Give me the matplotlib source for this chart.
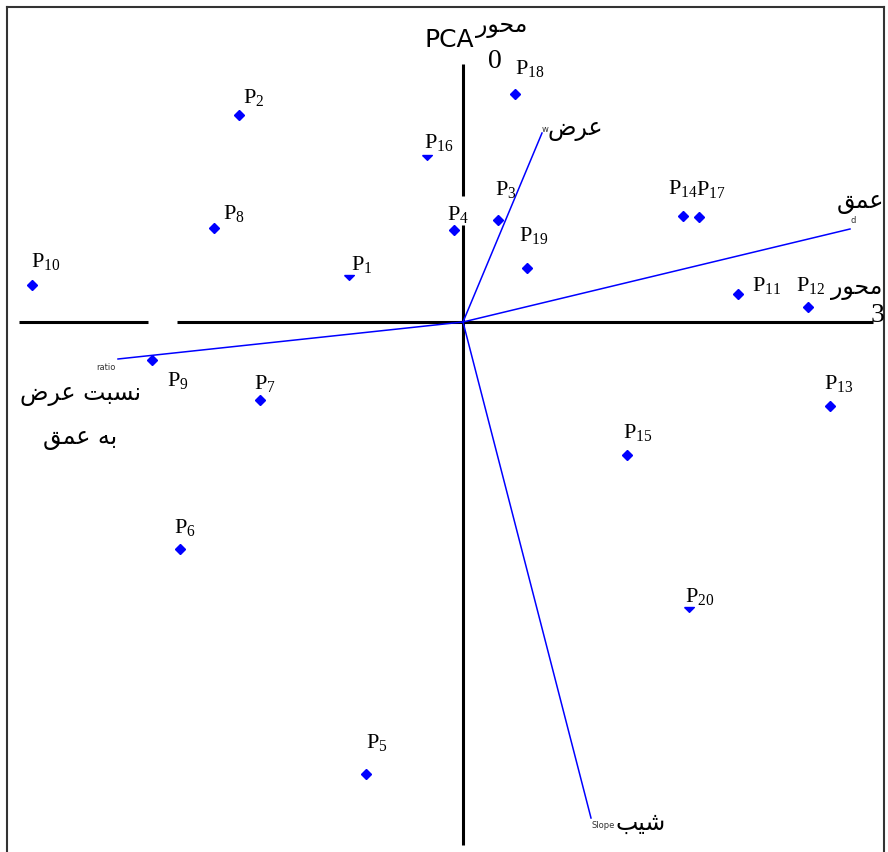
import numpy as np
import matplotlib.pyplot as plt

plt.rcParams['mathtext.fontset'] = 'custom'
plt.rcParams['mathtext.rm'] = 'Liberation Serif'
plt.rcParams['mathtext.it'] = 'Liberation Serif:italic'

# امتیاز نقاط روی دو مؤلفه اصلی
names = ['P1', 'P2', 'P3', 'P4', 'P5', 'P6', 'P7', 'P8', 'P9', 'P10',
         'P11', 'P12', 'P13', 'P14', 'P15', 'P16', 'P17', 'P18', 'P19', 'P20']
pc1 = [-1.14, -2.24, 0.35, -0.09, -0.97, -2.83, -2.03, -2.49, -3.11, -4.31,
       2.75, 3.45, 3.67, 2.20, 1.64, -0.36, 2.36, 0.52, 0.64, 2.26]
pc2 = [0.47, 2.07, 1.02, 0.92, -4.52, -2.27, -0.78, 0.94, -0.38, 0.37,
       0.28, 0.15, -0.84, 1.06, -1.33, 1.67, 1.05, 2.28, 0.54, -2.85]

# بردارهای متغیرها (متن فارسی به شکل‌های نمایشی و ترتیب دیداری)
var_codes = ['w', 'd', 'ratio', 'Slope']
var_names = ['\uFEBD\uFEAE\uFECB',
             '\uFED6\uFEE4\uFECB',
             '\uFEBD\uFEAE\uFECB \uFE96\uFE92\uFEB4\uFEE7\n\uFED6\uFEE4\uFECB \uFEEA\uFE91',
             '\uFE90\uFBFF\uFEB7']
load1 = [0.79, 3.87, -3.45, 1.28]
load2 = [1.89, 0.93, -0.37, -4.96]

axis_word = '\uFEAD\uFEEE\uFEA4\uFEE3'

# جای برچسب‌ها نسبت به نقطه (پیکسل)
label_off = {'P1': (2, 5), 'P2': (4, 12), 'P3': (-3, 25), 'P4': (-7, 10), 'P5': (0, 26),
             'P6': (-6, 16), 'P7': (-6, 11), 'P8': (9, 9), 'P9': (15, -26), 'P10': (-1, 18),
             'P11': (14, 3), 'P12': (-12, 16), 'P13': (-6, 17), 'P14': (-15, 22), 'P15': (-4, 17),
             'P16': (-3, 7), 'P17': (-3, 22), 'P18': (0, 20), 'P19': (-8, 27), 'P20': (-4, 5)}
half = ['P1', 'P16', 'P20']
code_pos = [((0, 3), 'left', 'center'), ((3, 4), 'center', 'bottom'),
            ((-2, -8), 'right', 'center'), ((1, -7), 'left', 'center')]
name_pos = [(33, 4), (11, 27), (-38, -57), (50, -5)]

fig = plt.figure(figsize=(8.88, 8.52), dpi=100)
ax = fig.add_axes([7 / 888, 0, 877 / 888, 845 / 852])
ax.set_xlim(-4.56, 4.21)
ax.set_ylim(-5.30, 3.15)
ax.set_xticks([])
ax.set_yticks([])
for s in ['left', 'right', 'top']:
    ax.spines[s].set_linewidth(1.5)
    ax.spines[s].set_color('#333333')
ax.spines['bottom'].set_visible(False)

# محورها
ax.plot([-4.44, -3.15], [0, 0], color='black', lw=2.2, solid_capstyle='butt')
ax.plot([-2.86, 4.10], [0, 0], color='black', lw=2.2, solid_capstyle='butt')
ax.plot([0, 0], [2.58, 1.26], color='black', lw=2.2, solid_capstyle='butt')
ax.plot([0, 0], [0.97, -5.23], color='black', lw=2.2, solid_capstyle='butt')

# بردارها
for i in range(len(var_codes)):
    ax.plot([0, load1[i]], [0, load2[i]], color='#0000ff', lw=1.1)
    off, ha, va = code_pos[i]
    ax.annotate(var_codes[i], (load1[i], load2[i]), xytext=off, textcoords='offset pixels',
                ha=ha, va=va, fontsize=6, color='#333333', family='DejaVu Sans')
    ax.annotate(var_names[i], (load1[i], load2[i]), xytext=name_pos[i], textcoords='offset pixels',
                ha='center', va='center', fontsize=17, family='DejaVu Sans',
                linespacing=2.0, multialignment='center', annotation_clip=False)

# نقاط
tri = [(-1, 0), (1, 0), (0, -1), (-1, 0)]
for i, n in enumerate(names):
    mk = tri if n in half else 'D'
    ms = 7 if n in half else 4.6
    ax.plot(pc1[i], pc2[i], marker=mk, ms=ms, color='#0000ff', ls='none')
    num = n[1:]
    ax.annotate(r'$\mathrm{P}_{%s}$' % num, (pc1[i], pc2[i]), xytext=label_off[n],
                textcoords='offset pixels', ha='left', va='baseline', fontsize=16)

# عنوان محورها
ax.text(-0.14, 2.82, 'PCA', fontsize=18, family='DejaVu Sans', ha='center', va='center')
ax.text(0.39, 2.96, axis_word, fontsize=17, family='DejaVu Sans', ha='center', va='center')
ax.text(0.32, 2.60, '0', fontsize=20, family='Liberation Serif', ha='center', va='center')
ax.text(3.94, 0.34, axis_word, fontsize=17, family='DejaVu Sans', ha='center', va='center',
        clip_on=False)
ax.text(4.15, 0.06, '3', fontsize=20, family='Liberation Serif', ha='center', va='center')

fig.savefig('out.png', dpi=100)
